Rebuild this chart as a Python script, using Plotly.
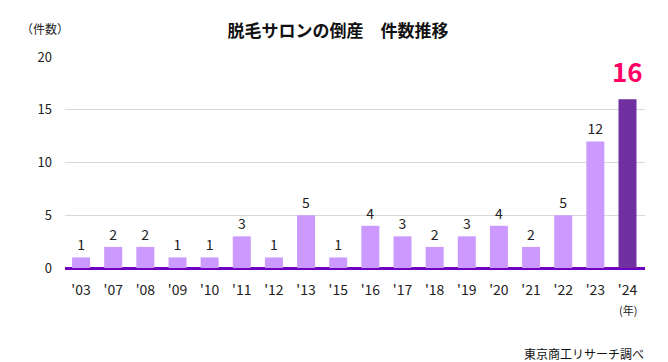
import plotly.graph_objects as go

years = ["'03", "'07", "'08", "'09", "'10", "'11", "'12", "'13", "'15", "'16",
         "'17", "'18", "'19", "'20", "'21", "'22", "'23", "'24"]
counts = [1, 2, 2, 1, 1, 3, 1, 5, 1, 4, 3, 2, 3, 4, 2, 5, 12, 16]
y_ticks = [0, 5, 10, 15, 20]

n = len(counts)
colors = ["#CC99FF"] * (n - 1) + ["#7030A0"]
labels = [str(v) for v in counts[:-1]] + [""]
text_family = "Noto Sans CJK JP"

fig = go.Figure(go.Bar(
    x=years, y=counts, marker_color=colors, marker_line_width=0,
    text=labels, textposition="outside", cliponaxis=False,
    textfont=dict(color="#222222", size=14, family=text_family),
    hoverinfo="skip",
))

# page body has an 8px margin, so figure is sized 660x354 to fill the window
fig.update_layout(
    width=660, height=354, paper_bgcolor="white", plot_bgcolor="white",
    margin=dict(l=57, r=23, t=49, b=94),
    bargap=0.44, showlegend=False,
    font=dict(family=text_family, color="#222222"),
    title=dict(text="<b>脱毛サロンの倒産　件数推移</b>", x=0.5, xanchor="center",
               y=0.935, yanchor="middle", font=dict(size=17, color="#111111")),
    xaxis=dict(showgrid=False, tickfont=dict(size=14, color="#222222"),
               showline=False, ticks="", ticklabelstandoff=12),
    yaxis=dict(range=[0, 20], tickvals=y_ticks, showgrid=True, gridcolor="#D9D9D9",
               gridwidth=1, zeroline=True, zerolinecolor="#7000C0", zerolinewidth=2.5,
               tickfont=dict(size=13, color="#222222"), ticks="", ticklabelstandoff=12),
    annotations=[
        dict(text="<b>%d</b>" % counts[-1], x=years[-1], y=counts[-1], xref="x", yref="y",
             xanchor="center", yanchor="bottom", yshift=8, showarrow=False,
             font=dict(size=26, color="#FF0066")),
        dict(text="（件数）", xref="paper", yref="paper", x=-0.034, y=1.137,
             xanchor="center", yanchor="middle",
             showarrow=False, font=dict(size=12, color="#222222")),
        dict(text="(年)", xref="paper", yref="paper", x=0.971, y=-0.199,
             xanchor="center", yanchor="middle",
             showarrow=False, font=dict(size=11, color="#222222")),
        dict(text="東京商工リサーチ調べ", xref="paper", yref="paper", x=1.002, y=-0.403,
             xanchor="right", yanchor="middle", showarrow=False,
             font=dict(size=12, color="#111111")),
    ],
)

fig.write_html("out.html")
